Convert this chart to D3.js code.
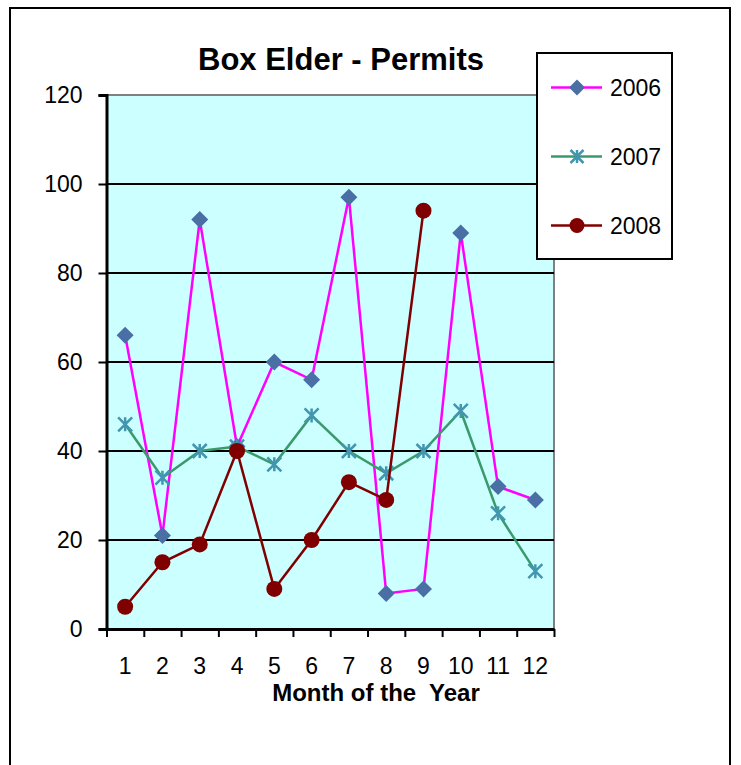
<!DOCTYPE html>
<html lang="en">
<head>
    <meta charset="UTF-8">
    <title>Box Elder - Permits</title>
    <script src="https://cdn.jsdelivr.net/npm/d3@7"></script>
    <style>
        body { margin: 0; background: #fff; }
        text { font-family: "Liberation Sans", Arial, sans-serif; }
    </style>
</head>
<body>
<div id="chartArea"></div>
<script>
    'use strict';

    const months = ['1', '2', '3', '4', '5', '6', '7', '8', '9', '10', '11', '12'];
    const permits2006 = [66, 21, 92, 41, 60, 56, 97, 8, 9, 89, 32, 29];
    const permits2007 = [46, 34, 40, 41, 37, 48, 40, 35, 40, 49, 26, 13];
    const permits2008 = [5, 15, 19, 40, 9, 20, 33, 29, 94];
    const yTicks = [0, 20, 40, 60, 80, 100, 120];

    const series = [
        { name: '2006', values: permits2006, line: '#ff00ff', fill: '#4a6fa5', marker: 'diamond' },
        { name: '2007', values: permits2007, line: '#3a9a6c', fill: '#4296b0', marker: 'star' },
        { name: '2008', values: permits2008, line: '#800000', fill: '#800000', marker: 'circle' }
    ];

    const width = 741, height = 765;
    const plot = { left: 106.5, right: 554, top: 95, bottom: 629 };

    const svg = d3.select('#chartArea').append('svg')
        .attr('width', width).attr('height', height);

    // outer chart border
    svg.append('rect')
        .attr('x', 10).attr('y', 8).attr('width', 720).attr('height', 780)
        .attr('fill', '#fff').attr('stroke', '#000').attr('stroke-width', 2);

    const x = d3.scaleBand().domain(months).range([plot.left, plot.right]).padding(0);
    const xEdge = d3.scaleLinear().domain([0, months.length]).range([plot.left, plot.right]);
    const y = d3.scaleLinear().domain([0, 120]).range([plot.bottom, plot.top]);

    // plot area
    svg.append('rect')
        .attr('x', plot.left).attr('y', plot.top)
        .attr('width', plot.right - plot.left).attr('height', plot.bottom - plot.top)
        .attr('fill', '#ccffff');
    svg.append('path')
        .attr('d', `M${plot.left},${plot.top}H${plot.right}V${plot.bottom}`)
        .attr('fill', 'none').attr('stroke', '#808080').attr('stroke-width', 2);

    // gridlines
    svg.append('g').selectAll('line').data(yTicks.filter(d => d > 0 && d < 120)).join('line')
        .attr('x1', plot.left).attr('x2', plot.right)
        .attr('y1', d => y(d)).attr('y2', d => y(d))
        .attr('stroke', '#000').attr('stroke-width', 2);

    // y axis
    const yAxis = svg.append('g').attr('transform', `translate(${plot.left},0)`)
        .call(d3.axisLeft(y).tickValues(yTicks).tickSize(8).tickPadding(16));
    yAxis.select('.domain').attr('stroke-width', 3);
    yAxis.selectAll('.tick line').attr('stroke-width', 2);
    yAxis.selectAll('text').attr('font-size', 23).attr('fill', '#000')
        .attr('font-family', '"Liberation Sans", Arial, sans-serif');

    // x axis: ticks at category edges, labels at centers
    const xTickAxis = svg.append('g').attr('transform', `translate(0,${plot.bottom})`)
        .call(d3.axisBottom(xEdge).ticks(12).tickSize(8).tickFormat('').tickSizeOuter(0));
    xTickAxis.select('.domain').attr('stroke-width', 3);
    xTickAxis.selectAll('.tick line').attr('stroke-width', 2);

    const xLabelAxis = svg.append('g').attr('transform', `translate(0,${plot.bottom})`)
        .call(d3.axisBottom(x).tickSize(0).tickPadding(29));
    xLabelAxis.select('.domain').remove();
    xLabelAxis.selectAll('text').attr('font-size', 23).attr('fill', '#000')
        .attr('font-family', '"Liberation Sans", Arial, sans-serif');

    // markers
    function drawMarker(g, s, size) {
        if (s.marker === 'diamond') {
            g.append('path').attr('d', d3.symbol(d3.symbolSquare, size * size * 0.5)())
                .attr('transform', 'rotate(45)').attr('fill', s.fill);
        } else if (s.marker === 'star') {
            const h = size / 2;
            g.append('path')
                .attr('d', `M${-h},${-h}L${h},${h}M${-h},${h}L${h},${-h}M0,${-h}V${h}`)
                .attr('stroke', s.fill).attr('stroke-width', 2.5).attr('fill', 'none');
        } else {
            g.append('circle').attr('r', size / 2).attr('fill', s.fill);
        }
    }

    const line = d3.line()
        .x((d, i) => x(months[i]) + x.bandwidth() / 2)
        .y(d => y(d));

    series.forEach(s => {
        svg.append('path').datum(s.values)
            .attr('d', line)
            .attr('fill', 'none').attr('stroke', s.line).attr('stroke-width', 2.5);
        s.values.forEach((v, i) => {
            const g = svg.append('g')
                .attr('transform', `translate(${x(months[i]) + x.bandwidth() / 2},${y(v)})`);
            drawMarker(g, s, s.marker === 'circle' ? 16 : (s.marker === 'diamond' ? 17 : 14));
        });
    });

    // title
    svg.append('text')
        .attr('x', 341).attr('y', 70).attr('text-anchor', 'middle')
        .attr('font-size', 31).attr('font-weight', 'bold')
        .text('Box Elder - Permits');

    svg.append('text')
        .attr('x', 376).attr('y', 701).attr('text-anchor', 'middle')
        .attr('font-size', 24).attr('font-weight', 'bold')
        .attr('xml:space', 'preserve').style('white-space', 'pre')
        .text('Month of the  Year');

    // legend
    const legend = svg.append('g');
    legend.append('rect')
        .attr('x', 537).attr('y', 53).attr('width', 135).attr('height', 206)
        .attr('fill', '#fff').attr('stroke', '#000').attr('stroke-width', 2);
    series.forEach((s, i) => {
        const ly = 87.5 + i * 69;
        legend.append('line')
            .attr('x1', 551).attr('x2', 602).attr('y1', ly).attr('y2', ly)
            .attr('stroke', s.line).attr('stroke-width', 2.5);
        const g = legend.append('g').attr('transform', `translate(577,${ly})`);
        drawMarker(g, s, s.marker === 'circle' ? 15 : (s.marker === 'diamond' ? 16 : 13));
        legend.append('text')
            .attr('x', 610).attr('y', ly + 8)
            .attr('font-size', 23)
            .text(s.name);
    });
</script>
</body>
</html>
